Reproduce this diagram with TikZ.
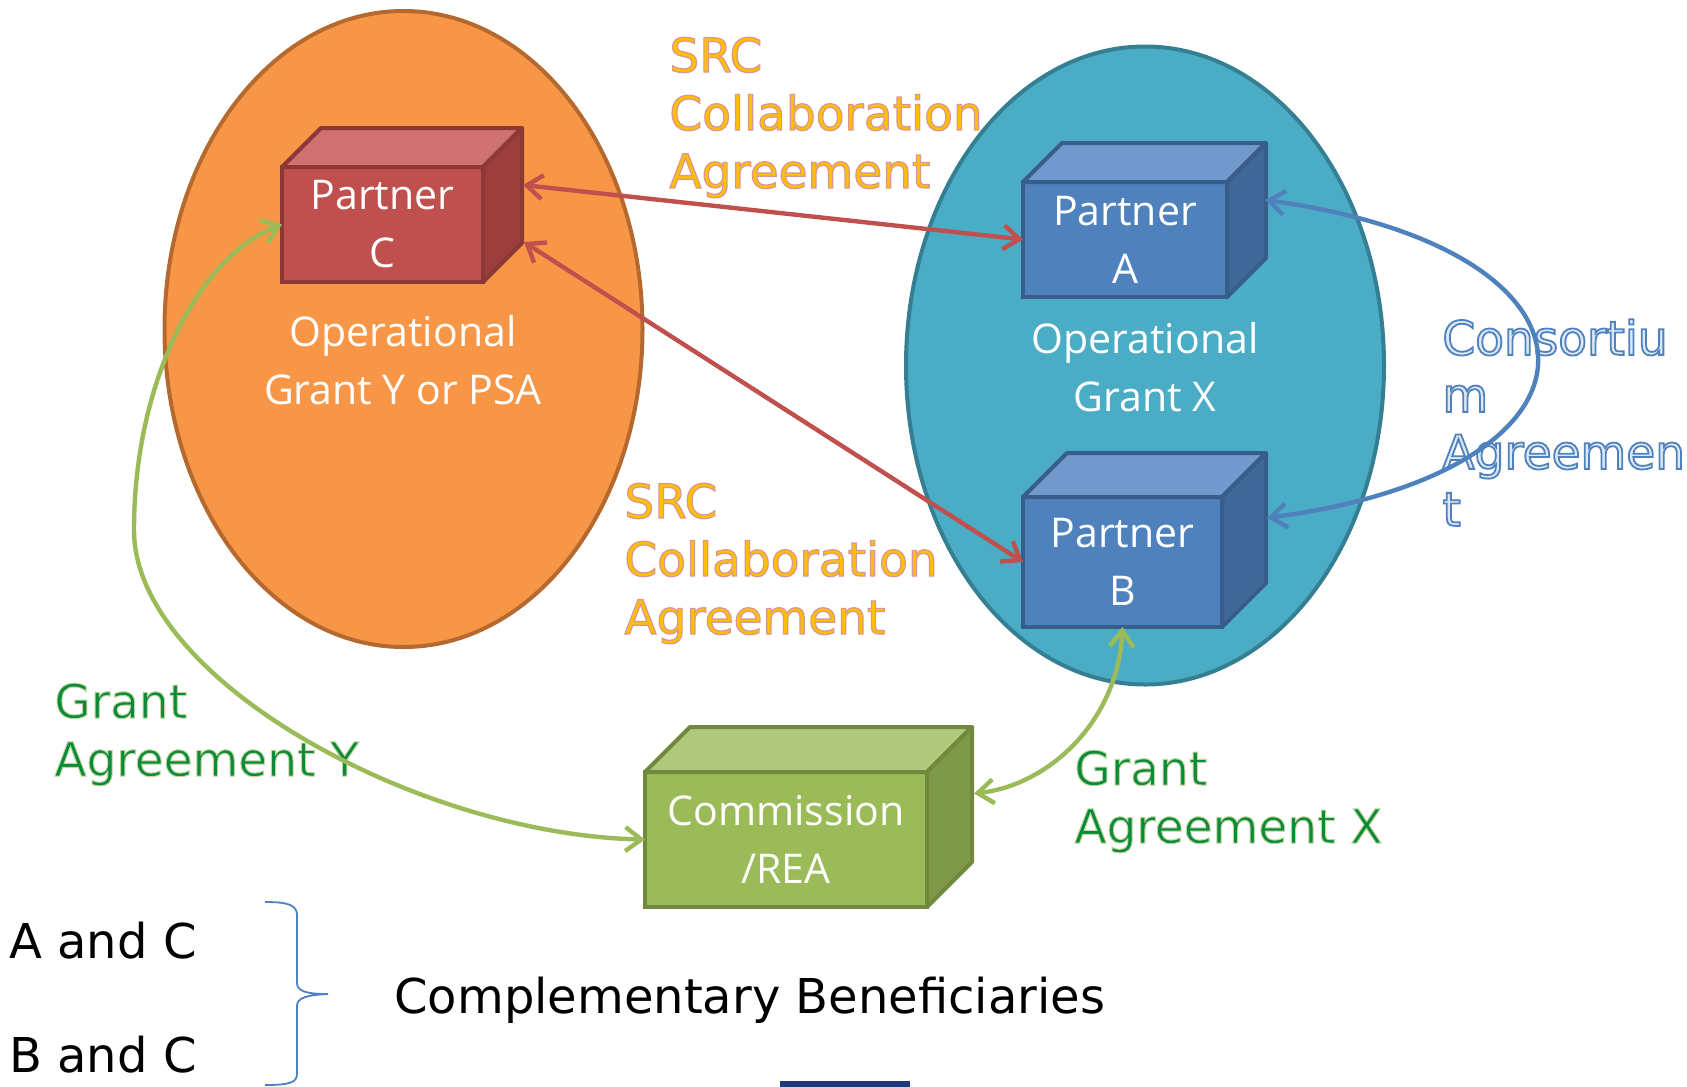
\documentclass[tikz,border=0pt]{standalone}
\usepackage{fontspec}
\setmainfont{DejaVu Sans}
\newfontfamily\boxfont{Open Sans}
\usetikzlibrary{arrows.meta,calc,shapes.geometric}

\definecolor{orangefill}{HTML}{F79646}
\definecolor{orangeedge}{HTML}{B5692F}
\definecolor{tealfill}{HTML}{4BACC6}
\definecolor{tealedge}{HTML}{357F93}
\definecolor{redfront}{HTML}{C0504D}
\definecolor{redtop}{HTML}{CE7170}
\definecolor{redside}{HTML}{9B3E3C}
\definecolor{rededge}{HTML}{8C3836}
\definecolor{bluefront}{HTML}{4F81BD}
\definecolor{bluetop}{HTML}{7299CE}
\definecolor{blueside}{HTML}{3F6798}
\definecolor{blueedge}{HTML}{385D8A}
\definecolor{greenfront}{HTML}{9BBB59}
\definecolor{greentop}{HTML}{B1C97F}
\definecolor{greenside}{HTML}{7E9A49}
\definecolor{greenedge}{HTML}{71893F}
\definecolor{srcfill}{HTML}{FFC000}
\definecolor{grantfill}{HTML}{0A8A3C}
\definecolor{consfill}{HTML}{DCE8F5}
\definecolor{navyline}{HTML}{1F3A7A}

% outlined text: stroke colour (rgb), stroke width, text
\newcommand{\outlined}[3]{\special{pdf:literal direct #1 RG 2 Tr #2 w}#3\special{pdf:literal direct 0 Tr}}
\newcommand{\srcol}[1]{\outlined{0.851 0.588 0.580}{0.6}{#1}}
\newcommand{\grantol}[1]{\outlined{0.765 0.839 0.608}{0.5}{#1}}
\newcommand{\consol}[1]{\outlined{0.310 0.506 0.741}{0.9}{#1}}

% top and side faces of a box drawn behind the front node
\newcommand{\boxfaces}[5]{%
  \filldraw[fill=#3, draw=#5, line width=2pt, line join=round]
    (#1.north west) -- ++(#2,-#2) -- ($(#1.north east)+(#2,-#2)$) -- (#1.north east) -- cycle;
  \filldraw[fill=#4, draw=#5, line width=2pt, line join=round]
    (#1.north east) -- ++(#2,-#2) -- ($(#1.south east)+(#2,-#2)$) -- (#1.south east) -- cycle;
}

\begin{document}
\begin{tikzpicture}[x=0.5pt, y=-0.5pt,
    grantoval/.style={ellipse, line width=2pt, inner sep=0pt},
    cubefront/.style={rectangle, draw, line width=2pt, outer sep=0pt, inner sep=0pt, align=center, text=white, font=\boxfont\fontsize{20.5}{29}\selectfont},
    ovaltext/.style={align=center, inner sep=0pt, text=white, font=\boxfont\fontsize{20.5}{29}\selectfont},
    srctext/.style={anchor=west, align=left, inner sep=0pt, text=srcfill, font=\fontsize{23.5}{29}\selectfont},
    granttext/.style={anchor=west, align=left, inner sep=0pt, text=grantfill, font=\fontsize{23.5}{29}\selectfont},
    constext/.style={anchor=west, align=left, inner sep=0pt, text=consfill, font=\fontsize{23.5}{28.5}\selectfont},
    plaintext/.style={anchor=west, inner sep=0pt, text=black, font=\fontsize{24}{29}\selectfont},
    link/.style={line width=2.2pt, {Straight Barb[length=8pt,width=12pt]}-{Straight Barb[length=8pt,width=12pt]}}
]
    \useasboundingbox (0,0) rectangle (1687,1087);

    % the two operational grants
    \node[grantoval, fill=orangefill, draw=orangeedge, minimum width=239pt, minimum height=318pt] (ogy) at (403.5,329) {};
    \node[grantoval, fill=tealfill, draw=tealedge, minimum width=239pt, minimum height=319pt] (ogx) at (1145,365.5) {};
    \node[ovaltext] (ogyl) at (403,360) {Operational\\Grant Y or PSA};
    \node[ovaltext] (ogxl) at (1145,367) {Operational\\Grant X};

    % agreement labels
    \node[srctext] (src1) at (669,117.5) {\srcol{SRC}\\\srcol{Collaboration}\\\srcol{Agreement}};
    \node[srctext] (src2) at (624,563.5) {\srcol{SRC}\\\srcol{Collaboration}\\\srcol{Agreement}};
    \node[granttext] (gay) at (54,734.5) {\grantol{Grant}\\\grantol{Agreement Y}};
    \node[granttext] (gax) at (1074,801.5) {\grantol{Grant}\\\grantol{Agreement X}};
    \node[constext] (cons) at (1442,422.5) {\consol{Consortiu}\\\consol{m}\\\consol{Agreemen}\\\consol{t}};

    % partners and commission
    \node[cubefront, fill=redfront, draw=rededge, minimum width=100.5pt, minimum height=57.5pt] (pc) at (382.5,224.5) {Partner\\C};
    \boxfaces{pc}{39}{redtop}{redside}{rededge}
    \node[cubefront, fill=bluefront, draw=blueedge, minimum width=102pt, minimum height=57.5pt] (pa) at (1125,239.5) {Partner\\A};
    \boxfaces{pa}{39}{bluetop}{blueside}{blueedge}
    \node[cubefront, fill=bluefront, draw=blueedge, minimum width=99.5pt, minimum height=65pt] (pb) at (1122.5,562) {Partner\\B};
    \boxfaces{pb}{44}{bluetop}{blueside}{blueedge}
    \node[cubefront, fill=greenfront, draw=greenedge, minimum width=141pt, minimum height=67.5pt] (cm) at (786,839.5) {Commission\\/REA};
    \boxfaces{cm}{45}{greentop}{greenside}{greenedge}

    % agreements
    \draw[link, redfront] ([shift={(40,-39.5)}]pc.east) -- (pa.west);
    \draw[link, redfront] ([shift={(41,17.5)}]pc.east) -- (pb.west);
    \draw[link, bluefront] ([shift={(38,-39.5)}]pa.east) .. controls (1627,250) and (1627,470) .. ([shift={(45,-44)}]pb.east);
    \coordinate (gyturn) at (134,530);
    \draw[link, greenfront] (pc.west) .. controls (200,255) and (134,380) .. (gyturn) .. controls (134,680) and (420,835) .. (cm.west);
    \draw[link, greenfront] (pb.south) .. controls (1118,720) and (1050,785) .. ([shift={(47,-46)}]cm.east);

    % complementary beneficiaries
    \node[plaintext] (ac) at (9,941) {A and C};
    \node[plaintext] (bc) at (9,1055) {B and C};
    \coordinate (bracetop) at (265,902);
    \coordinate (bracebot) at (265,1085);
    \draw[bluefront, line width=0.9pt] (bracetop) .. controls (288,902) and (297,905) .. (297,915) -- (297,983)
        .. controls (297,991) and (306,994) .. (328,994) .. controls (306,995) and (297,998) .. (297,1006)
        -- (297,1074) .. controls (297,1083) and (288,1085) .. (bracebot);
    \node[plaintext] (compl) at (394,1000) {Complementary Beneficiaries};
    \fill[navyline] (780,1081) rectangle (910,1087);
\end{tikzpicture}
\end{document}
